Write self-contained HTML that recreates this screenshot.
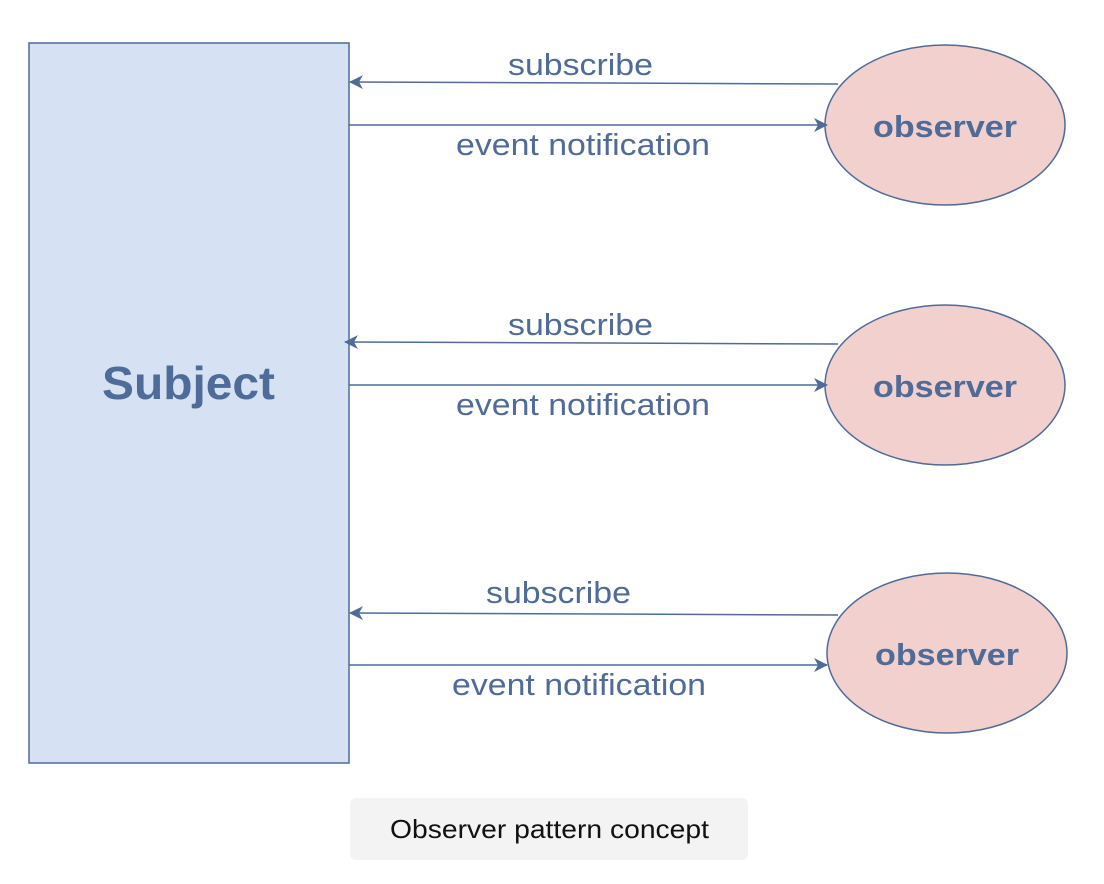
<!DOCTYPE html>
<html><head><meta charset="utf-8"><style>
html,body{margin:0;padding:0;background:#fff;}
svg{display:block;}
text{font-family:"Liberation Sans",Arial,sans-serif;}
</style></head><body>
<svg width="1104" height="884" viewBox="0 0 1104 884" xmlns="http://www.w3.org/2000/svg">
<defs>
<marker id="a" markerWidth="14" markerHeight="14" refX="13" refY="7" orient="auto" markerUnits="userSpaceOnUse">
<path d="M0,0 L14,7 L0,14 L4,7 Z" fill="#4f6b98"/>
</marker>
</defs>
<rect x="29" y="43" width="320" height="720" fill="#d6e2f3" stroke="#4f6b98" stroke-width="1.5"/>
<text x="102" y="399" textLength="173" lengthAdjust="spacingAndGlyphs" font-size="46" font-weight="bold" fill="#4f6b98">Subject</text>

<g fill="#f2d0cd" stroke="#4f6b98" stroke-width="1.5">
<ellipse cx="945" cy="125" rx="120" ry="80"/>
<ellipse cx="945" cy="385" rx="120" ry="80"/>
<ellipse cx="947" cy="653" rx="120" ry="80"/>
</g>
<g font-size="31" font-weight="bold" fill="#4f6b98">
<text x="873" y="137" textLength="144" lengthAdjust="spacingAndGlyphs">observer</text>
<text x="873" y="397" textLength="144" lengthAdjust="spacingAndGlyphs">observer</text>
<text x="875" y="665" textLength="144" lengthAdjust="spacingAndGlyphs">observer</text>
</g>

<g stroke="#4f6b98" stroke-width="1.5" marker-end="url(#a)">
<line x1="838" y1="84" x2="350" y2="82"/>
<line x1="349" y1="125" x2="827" y2="125"/>
<line x1="838" y1="344" x2="345" y2="342"/>
<line x1="349" y1="385" x2="827" y2="385"/>
<line x1="838" y1="615" x2="350" y2="613"/>
<line x1="349" y1="665" x2="827" y2="665"/>
</g>
<g font-size="31" fill="#4f6b98">
<text x="508" y="75" textLength="145" lengthAdjust="spacingAndGlyphs">subscribe</text>
<text x="456" y="155" textLength="254" lengthAdjust="spacingAndGlyphs">event notification</text>
<text x="508" y="335" textLength="145" lengthAdjust="spacingAndGlyphs">subscribe</text>
<text x="456" y="415" textLength="254" lengthAdjust="spacingAndGlyphs">event notification</text>
<text x="486" y="603" textLength="145" lengthAdjust="spacingAndGlyphs">subscribe</text>
<text x="452" y="695" textLength="254" lengthAdjust="spacingAndGlyphs">event notification</text>
</g>

<rect x="350" y="798" width="398" height="62" rx="6" fill="#f3f3f3"/>
<text x="390" y="838" textLength="319" lengthAdjust="spacingAndGlyphs" font-size="26" fill="#111">Observer pattern concept</text>
</svg>
</body></html>
